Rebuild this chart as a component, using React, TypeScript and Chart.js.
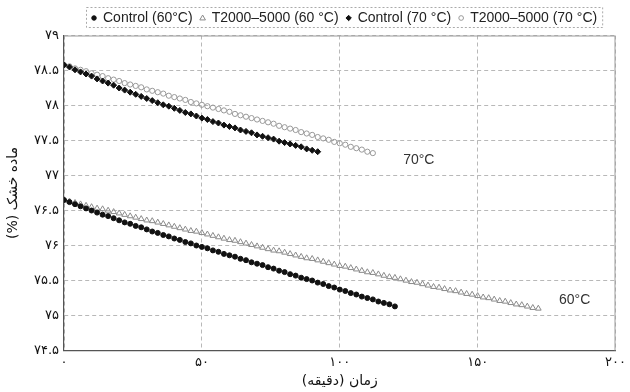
import React, { useEffect, useRef } from "react";
import { Chart, registerables } from "chart.js";

Chart.register(...registerables);

// time (minutes)
const TIMES = [
  0, 2, 4, 6, 8, 10, 12, 14, 16, 18, 20, 22, 24, 26, 28, 30, 32, 34, 36, 38,
  40, 42, 44, 46, 48, 50, 52, 54, 56, 58, 60, 62, 64, 66, 68, 70, 72, 74, 76, 78,
  80, 82, 84, 86, 88, 90, 92, 94, 96, 98, 100, 102, 104, 106, 108, 110, 112, 114,
  116, 118, 120, 122, 124, 126, 128, 130, 132, 134, 136, 138, 140, 142, 144, 146,
  148, 150, 152, 154, 156, 158, 160, 162, 164, 166, 168, 170, 172,
];

const CONTROL_60 = [
  76.65, 76.62, 76.59, 76.56, 76.53, 76.5, 76.47, 76.44, 76.42, 76.39, 76.36,
  76.33, 76.31, 76.28, 76.26, 76.23, 76.2, 76.18, 76.15, 76.13, 76.1, 76.08,
  76.05, 76.03, 76.0, 75.98, 75.96, 75.93, 75.91, 75.88, 75.86, 75.84, 75.81,
  75.79, 75.76, 75.74, 75.72, 75.69, 75.67, 75.64, 75.62, 75.59, 75.57, 75.54,
  75.52, 75.5, 75.47, 75.45, 75.42, 75.4, 75.37, 75.35, 75.32, 75.3, 75.27,
  75.25, 75.23, 75.2, 75.18, 75.16, 75.13,
];

const T2000_60 = [
  76.65, 76.63, 76.61, 76.59, 76.57, 76.55, 76.53, 76.52, 76.5, 76.48, 76.46,
  76.44, 76.42, 76.4, 76.38, 76.36, 76.35, 76.33, 76.31, 76.29, 76.27, 76.25,
  76.23, 76.21, 76.2, 76.18, 76.16, 76.14, 76.12, 76.1, 76.08, 76.07, 76.05,
  76.03, 76.01, 75.99, 75.97, 75.95, 75.93, 75.92, 75.9, 75.88, 75.86, 75.84,
  75.82, 75.81, 75.79, 75.77, 75.75, 75.73, 75.71, 75.7, 75.68, 75.66, 75.64,
  75.62, 75.61, 75.59, 75.57, 75.55, 75.54, 75.52, 75.5, 75.48, 75.47, 75.45,
  75.43, 75.41, 75.4, 75.38, 75.36, 75.35, 75.33, 75.31, 75.3, 75.28, 75.26,
  75.25, 75.23, 75.21, 75.2, 75.18, 75.16, 75.15, 75.13, 75.11, 75.1,
];

const CONTROL_70 = [
  78.58, 78.55, 78.51, 78.48, 78.45, 78.42, 78.38, 78.35, 78.32, 78.29, 78.25,
  78.22, 78.19, 78.16, 78.13, 78.1, 78.07, 78.04, 78.01, 77.99, 77.96, 77.93,
  77.9, 77.88, 77.85, 77.82, 77.8, 77.77, 77.75, 77.72, 77.7, 77.68, 77.65,
  77.63, 77.61, 77.58, 77.56, 77.54, 77.52, 77.49, 77.47, 77.45, 77.43, 77.41,
  77.38, 77.36, 77.34,
];

const T2000_70 = [
  78.58, 78.56, 78.53, 78.51, 78.49, 78.46, 78.44, 78.42, 78.39, 78.37, 78.35,
  78.32, 78.3, 78.28, 78.26, 78.23, 78.21, 78.19, 78.17, 78.14, 78.12, 78.1,
  78.08, 78.05, 78.03, 78.01, 77.99, 77.97, 77.95, 77.93, 77.91, 77.88, 77.86,
  77.84, 77.82, 77.8, 77.78, 77.76, 77.74, 77.71, 77.69, 77.67, 77.65, 77.62,
  77.6, 77.58, 77.55, 77.53, 77.51, 77.48, 77.46, 77.44, 77.41, 77.39, 77.37,
  77.34, 77.32,
];

const SERIES_LABELS = [
  "Control (60°C)",
  "T2000–5000 (60 °C)",
  "Control (70 °C)",
  "T2000–5000 (70 °C)",
];

const ANNOT_LABELS = ["70°C", "60°C"];
const ANNOT_X = [123, 179.5];
const ANNOT_Y = [77.22, 75.22];

const X_TITLE = "زمان (دقیقه)";
const Y_TITLE = "ماده خشک (%)";

const rtl = (s: string) => "\u202B" + s + "\u202C";

const toFa = (s: string) =>
  s.replace(/[0-9]/g, (d) => "۰۱۲۳۴۵۶۷۸۹"[Number(d)]);

const pts = (ys: number[]) => ys.map((y, i) => ({ x: TIMES[i], y }));

const STYLES = [
  { style: "circle", r: 2.5, fill: "#111", stroke: "#111", bw: 1 },
  { style: "triangle", r: 3.3, fill: "rgba(255,255,255,0)", stroke: "#8a8a8a", bw: 1 },
  { style: "rectRot", r: 3.0, fill: "#111", stroke: "#111", bw: 1 },
  { style: "circle", r: 2.6, fill: "rgba(255,255,255,0)", stroke: "#999", bw: 1 },
];

function drawMarker(ctx: CanvasRenderingContext2D, kind: string, x: number, y: number, r: number, fill: string, stroke: string) {
  ctx.save();
  ctx.beginPath();
  if (kind === "circle") {
    ctx.arc(x, y, r, 0, Math.PI * 2);
  } else if (kind === "triangle") {
    ctx.moveTo(x, y - r);
    ctx.lineTo(x + r * 0.95, y + r * 0.65);
    ctx.lineTo(x - r * 0.95, y + r * 0.65);
    ctx.closePath();
  } else {
    ctx.moveTo(x, y - r);
    ctx.lineTo(x + r, y);
    ctx.lineTo(x, y + r);
    ctx.lineTo(x - r, y);
    ctx.closePath();
  }
  ctx.fillStyle = fill;
  ctx.fill();
  ctx.strokeStyle = stroke;
  ctx.lineWidth = 1;
  ctx.stroke();
  ctx.restore();
}

const decorPlugin = {
  id: "decor",
  afterDraw(chart: any) {
    const ctx: CanvasRenderingContext2D = chart.ctx;
    const ca = chart.chartArea;
    // frame top/right
    ctx.save();
    ctx.strokeStyle = "#9a9a9a";
    ctx.lineWidth = 1;
    ctx.beginPath();
    ctx.moveTo(ca.left, ca.top + 0.5);
    ctx.lineTo(ca.right - 0.5, ca.top + 0.5);
    ctx.lineTo(ca.right - 0.5, ca.bottom);
    ctx.stroke();
    ctx.restore();

    // annotations
    const xs = chart.scales.x;
    const ys = chart.scales.y;
    ctx.save();
    ctx.font = '14px "Liberation Sans", Arial, sans-serif';
    ctx.fillStyle = "#333";
    ctx.textAlign = "left";
    ctx.textBaseline = "middle";
    ANNOT_LABELS.forEach((t, i) => {
      ctx.fillText(t, xs.getPixelForValue(ANNOT_X[i]), ys.getPixelForValue(ANNOT_Y[i]));
    });
    ctx.restore();

    // legend
    ctx.save();
    ctx.font = '14px "Liberation Sans", Arial, sans-serif';
    ctx.fillStyle = "#222";
    ctx.textBaseline = "middle";
    ctx.textAlign = "left";
    const cy = 18;
    let x = 94;
    SERIES_LABELS.forEach((lab, i) => {
      const s = STYLES[i];
      drawMarker(ctx, s.style, x, cy, s.r * 0.9, s.fill, s.stroke);
      const tx = x + 9;
      ctx.fillText(lab, tx, cy);
      x = tx + ctx.measureText(lab).width + 10;
    });
    const right = x - 5;
    ctx.strokeStyle = "#aaa";
    ctx.setLineDash([2, 2]);
    ctx.strokeRect(86.5, 7.5, right - 86, 20);
    ctx.restore();
  },
};

export default function App() {
  const ref = useRef<HTMLCanvasElement | null>(null);
  useEffect(() => {
    if (!ref.current) return;
    const all = [CONTROL_60, T2000_60, CONTROL_70, T2000_70];
    const chart = new Chart(ref.current, {
      type: "scatter",
      data: {
        datasets: all.map((ys, i) => ({
          label: SERIES_LABELS[i],
          data: pts(ys),
          showLine: false,
          pointStyle: STYLES[i].style as any,
          pointRadius: STYLES[i].r,
          pointBackgroundColor: STYLES[i].fill,
          pointBorderColor: STYLES[i].stroke,
          pointBorderWidth: STYLES[i].bw,
        })),
      },
      options: {
        responsive: false,
        animation: false,
        devicePixelRatio: 1,
        layout: { padding: { top: 35.5, right: 9, left: 0, bottom: 0 } },
        plugins: {
          legend: { display: false },
          tooltip: { enabled: false },
        },
        scales: {
          x: {
            type: "linear",
            min: 0,
            max: 200,
            afterFit: (s: any) => {
              s.height = 41.5;
            },
            ticks: {
              stepSize: 50,
              padding: 4,
              color: "#111",
              font: { family: '"DejaVu Sans"', size: 13 },
              callback: (v: any) => toFa(String(v)),
              maxRotation: 0,
            },
            grid: {
              color: "#b8b8b8",
              drawTicks: false,
            },
            border: { display: true, color: "#555", width: 1.2, dash: [4, 3] },
            title: {
              display: true,
              text: rtl(X_TITLE),
              color: "#111",
              font: { family: '"DejaVu Sans"', size: 14 },
              padding: { top: 0, bottom: 2 },
            },
          },
          y: {
            min: 74.5,
            max: 79,
            afterFit: (s: any) => {
              s.width = 64;
            },
            ticks: {
              stepSize: 0.5,
              padding: 5,
              color: "#111",
              font: { family: '"DejaVu Sans"', size: 13 },
              callback: (v: any) => toFa(String(Number(v))),
            },
            grid: {
              color: "#b8b8b8",
              drawTicks: false,
            },
            border: { display: true, color: "#555", width: 1.2, dash: [4, 3] },
            title: {
              display: true,
              text: rtl(Y_TITLE),
              color: "#111",
              font: { family: '"DejaVu Sans"', size: 14 },
              padding: { top: 5, bottom: 0 },
            },
          },
        },
      },
      plugins: [decorPlugin],
    } as any);
    return () => chart.destroy();
  }, []);
  return (
    <div style={{ position: "fixed", left: 0, top: 0, width: 630, height: 392, background: "#fff" }}>
      <canvas ref={ref} width={630} height={392} />
    </div>
  );
}
